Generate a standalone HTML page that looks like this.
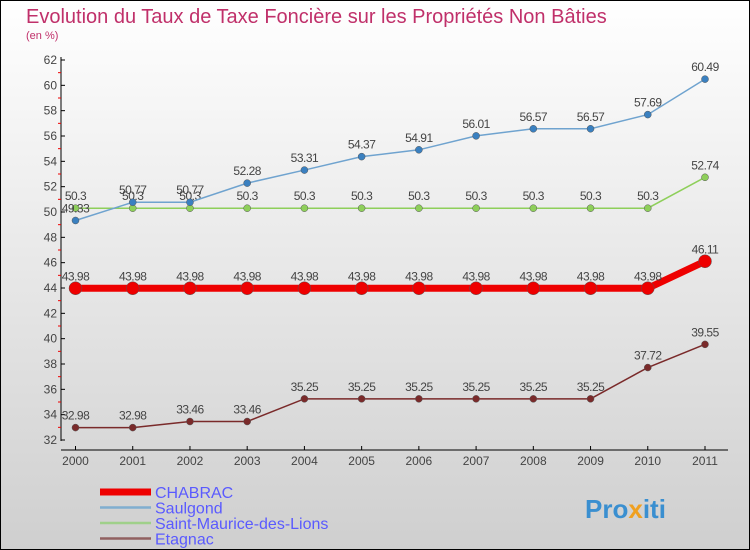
<!DOCTYPE html>
<html><head><meta charset="utf-8"><style>
body{margin:0}
#c{width:750px;height:550px;position:relative;overflow:hidden}
svg text{font-family:"Liberation Sans",sans-serif}
</style></head><body>
<div id="c">
<svg id="s" width="750" height="550" xmlns="http://www.w3.org/2000/svg">
<defs><linearGradient id="bg" x1="0" y1="0" x2="0" y2="1"><stop offset="0" stop-color="#ffffff"/><stop offset="1" stop-color="#cfcfcf"/></linearGradient></defs>
<rect x="0.5" y="0.5" width="749" height="549" fill="url(#bg)" stroke="#000"/>
<text x="26" y="23" font-size="20" fill="#c0306a">Evolution du Taux de Taxe Foncière sur les Propriétés Non Bâties</text>
<text x="26" y="39" font-size="11" fill="#c0306a">(en %)</text>
<text x="585" y="518" font-size="26" font-weight="bold" fill="#3a8fd0">Pro<tspan fill="#f0a020">x</tspan>iti</text>
</svg></div>
<script>
const years=[2000,2001,2002,2003,2004,2005,2006,2007,2008,2009,2010,2011];
const yTicks=[32,34,36,38,40,42,44,46,48,50,52,54,56,58,60,62];
const chabrac=[43.98,43.98,43.98,43.98,43.98,43.98,43.98,43.98,43.98,43.98,43.98,46.11];
const saulgond=[49.33,50.77,50.77,52.28,53.31,54.37,54.91,56.01,56.57,56.57,57.69,60.49];
const stMaurice=[50.3,50.3,50.3,50.3,50.3,50.3,50.3,50.3,50.3,50.3,50.3,52.74];
const etagnac=[32.98,32.98,33.46,33.46,35.25,35.25,35.25,35.25,35.25,35.25,37.72,39.55];
const series=[
 {name:'Etagnac',key:'etagnac',v:etagnac,c:'#7a2a2a',w:1.5,r:3.5,lc:'#906060'},
 {name:'Saint-Maurice-des-Lions',key:'saint-maurice',v:stMaurice,c:'#8ecf5a',w:1.5,r:3.5,lc:'#9fd08a'},
 {name:'Saulgond',key:'saulgond',v:saulgond,c:'#6fa3cf',w:1.5,r:3.5,lc:'#80aed0',dot:'#3a80c0'},
 {name:'CHABRAC',key:'chabrac',v:chabrac,c:'#ee0000',w:7,r:6.5,lc:'#ee0000'}];
const s=document.getElementById('s');const NS='http://www.w3.org/2000/svg';
function X(i){return 75.5+i*(705-75.5)/11}
function Y(v){return 440-(v-32)*(380/30)}
function el(t,a,p){const e=document.createElementNS(NS,t);for(const k in a)e.setAttribute(k,a[k]);(p||s).appendChild(e);return e}
// axes
let ax=el('line',{x1:61,y1:57,x2:61,y2:441,stroke:'#000'});


let bx=el('line',{x1:61,y1:450,x2:728,y2:450,stroke:'#000'});


yTicks.forEach(t=>{
 el('line',{x1:61,y1:Y(t),x2:65,y2:Y(t),stroke:'#000'});
 if(t<62)el('line',{x1:58,y1:Y(t+1),x2:61,y2:Y(t+1),stroke:'#e00'});
 const tx=el('text',{x:57,y:Y(t)+4,'font-size':12,fill:'#444','text-anchor':'end'});tx.textContent=t;
 
 
});
years.forEach((yr,i)=>{
 el('line',{x1:X(i),y1:446,x2:X(i),y2:450,stroke:'#000'});
 const tx=el('text',{x:X(i),y:465,'font-size':12,fill:'#444','text-anchor':'middle'});tx.textContent=yr;
 
 
});
series.forEach(se=>{
 const g=el('g',{});
 
 
 el('polyline',{points:se.v.map((v,i)=>X(i)+','+Y(v)).join(' '),fill:'none',stroke:se.c,'stroke-width':se.w},g);
 se.v.forEach((v,i)=>{
  const p=el('circle',{cx:X(i),cy:Y(v),r:se.r,fill:se.dot||se.c,stroke:'#555','stroke-width':0.5},g);
  
  
  const t=el('text',{x:X(i),y:Y(v)-8,'font-size':12,fill:'#444','text-anchor':'middle','letter-spacing':'-0.5'},g);
  t.textContent=v.toFixed(2).replace(/0$/,'').replace(/\.$/,'');
  
  
 });
});
['CHABRAC','Saulgond','Saint-Maurice-des-Lions','Etagnac'].forEach((n,i)=>{
 const se=series.find(z=>z.name===n);const y=492+i*15.5;
 const g=el('g',{});
 
 
 el('line',{x1:100,y1:y,x2:151,y2:y,stroke:se.lc,'stroke-width':i==0?7:2.5},g);
 const t=el('text',{x:155,y:y+6,'font-size':16,fill:'#5a5aff'},g);t.textContent=n;
});
</script></body></html>
